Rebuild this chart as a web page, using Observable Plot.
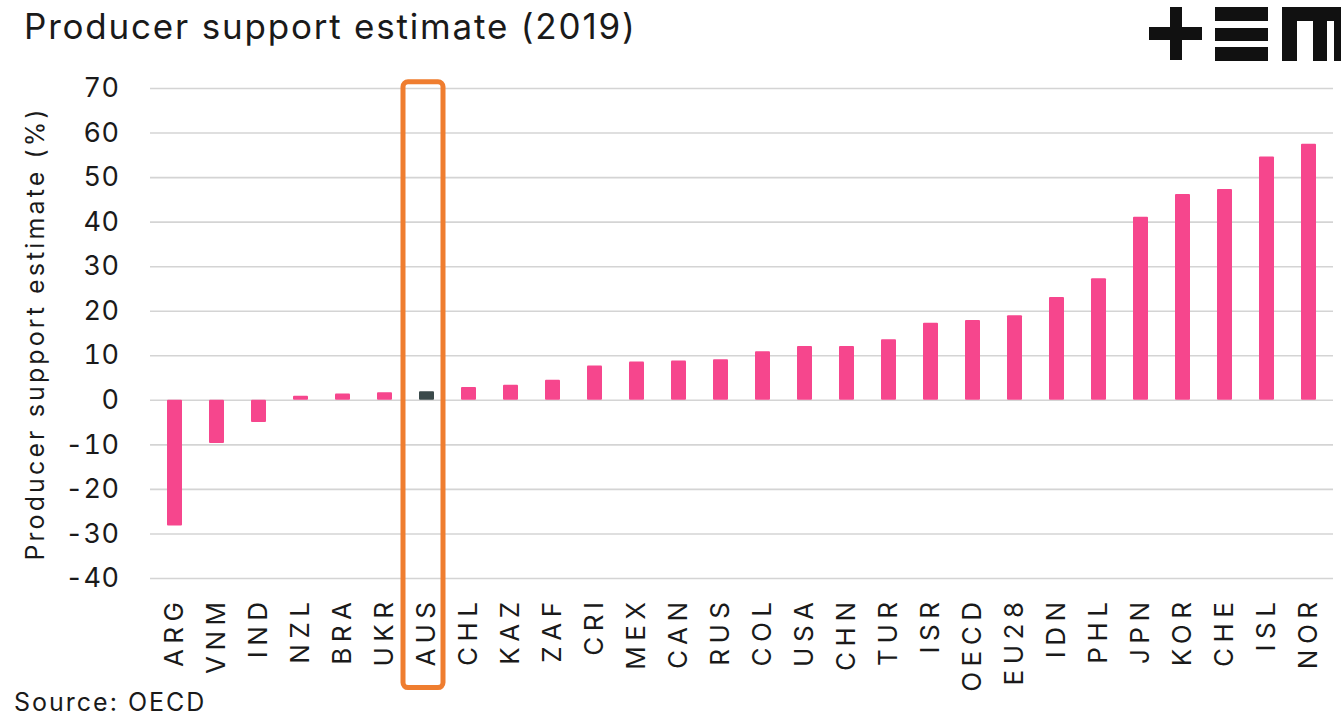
<!DOCTYPE html>
<html>
<head>
<meta charset="utf-8">
<script src="https://cdn.jsdelivr.net/npm/d3@7"></script>
<script src="https://cdn.jsdelivr.net/npm/@observablehq/plot@0.6"></script>
<style>
  html, body { margin: 0; padding: 0; background: #fff; }
  body { width: 1341px; height: 717px; overflow: hidden; position: relative; font-family: Inter, "Noto Sans", sans-serif; color: #1a1a1a; }
  #title { position: absolute; left: 24px; top: 5px; font-size: 35px; font-weight: 400; letter-spacing: 1.8px; white-space: nowrap; }
  #source { position: absolute; left: 14px; top: 687px; font-size: 25px; letter-spacing: 2px; white-space: nowrap; }
  #logo { position: absolute; left: 0; top: 0; }
  #chart { position: absolute; left: 0; top: 0; }
</style>
</head>
<body>
<div id="chart"></div>
<div id="title">Producer support estimate (2019)</div>
<div id="source">Source: OECD</div>
<svg id="logo" width="1341" height="70">
  <g fill="#111">
    <rect x="1149" y="27" width="53" height="13"/>
    <rect x="1170" y="7" width="12" height="53"/>
    <rect x="1215" y="7" width="53" height="14"/>
    <rect x="1215" y="28" width="53" height="13"/>
    <rect x="1215" y="47" width="53" height="14"/>
    <rect x="1282" y="7" width="59" height="14"/>
    <rect x="1282" y="7" width="15" height="54"/>
    <rect x="1313" y="7" width="14" height="54"/>
    <rect x="1334" y="7" width="7" height="54"/>
  </g>
</svg>
<script>
const countries = ["ARG","VNM","IND","NZL","BRA","UKR","AUS","CHL","KAZ","ZAF","CRI","MEX","CAN","RUS","COL","USA","CHN","TUR","ISR","OECD","EU28","IDN","PHL","JPN","KOR","CHE","ISL","NOR"];
const pse = [-28.2,-9.7,-5.0,0.9,1.4,1.7,1.9,2.9,3.4,4.5,7.7,8.6,8.85,9.1,10.9,12.1,12.1,13.6,17.3,17.9,19.0,23.1,27.3,41.1,46.2,47.3,54.6,57.5];
const yTicks = [-40,-30,-20,-10,0,10,20,30,40,50,60,70];
const highlight = ["AUS"];

const data = countries.map((c, i) => ({country: c, value: pse[i]}));

const pink = "#f6468d";
const dark = "#3b4a4b";

const chart = Plot.plot({
  width: 1341,
  height: 700,
  marginTop: 88,
  marginBottom: 122,
  marginLeft: 150,
  marginRight: 8,
  style: {fontFamily: "Inter, 'Noto Sans', sans-serif", color: "#1a1a1a", background: "transparent", overflow: "visible"},
  x: {domain: countries, paddingInner: 0.645, paddingOuter: 0.32, align: 0.5},
  y: {domain: [-40, 70], ticks: yTicks},
  marks: [
    Plot.gridY(yTicks, {stroke: "#d4d4d4", strokeOpacity: 1, strokeWidth: 1.6}),
    Plot.barY(data, {x: "country", y: "value", fill: d => highlight.includes(d.country) ? dark : pink, rx: 1}),
    Plot.axisY(yTicks, {tickSize: 0, tickPadding: 31, fontSize: 27, tickFormat: d => String(d), label: null}),
    Plot.axisY({label: "Producer support estimate (%)", labelAnchor: "center", labelOffset: 124, labelArrow: "none", fontSize: 25, tickSize: 0, tickFormat: () => "", ticks: []}),
    Plot.axisX({tickSize: 0, tickPadding: 18, tickRotate: -90, fontSize: 26, label: null}),
    Plot.barY(highlight, {x: d => d, y1: -64.6, y2: 71.4, fill: "none", stroke: "#ef7d2f", strokeWidth: 5, rx: 5, insetLeft: -16, insetRight: -9, clip: false})
  ]
});
chart.querySelectorAll('[aria-label="x-axis tick label"]').forEach(g => g.setAttribute("letter-spacing", "5.5"));
chart.querySelectorAll('[aria-label="y-axis tick label"]').forEach(g => g.setAttribute("letter-spacing", "0.5"));
chart.querySelectorAll('[aria-label="y-axis label"]').forEach(g => g.setAttribute("letter-spacing", "3.1"));
document.getElementById("chart").appendChild(chart);
</script>
</body>
</html>
